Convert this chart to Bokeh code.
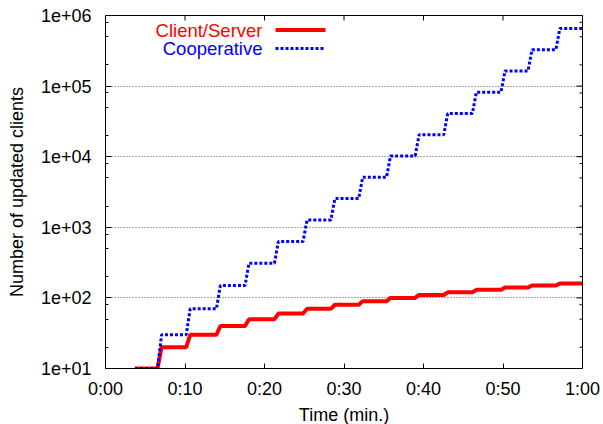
import math
from bokeh.plotting import figure
from bokeh.models import Range1d, FixedTicker, Label, Arrow
from bokeh.embed import file_html
from bokeh.resources import INLINE

# ---- data ----
start_time = 3.7          # minutes, first point of both series
end_time = 60.0
rise_times = [6.8, 10.4, 14.2, 17.8, 21.5, 25.1, 28.6, 32.1, 35.6, 39.2,
              42.8, 46.4, 50.0, 53.4, 56.9]
rise_width = 0.5
cs_levels = [10, 20, 30, 40, 50, 60, 70, 80, 90, 100, 110, 120, 130, 140, 150, 160]
coop_levels = [10, 30, 70, 150, 310, 630, 1270, 2550, 5110, 10230, 20470,
               40950, 81910, 163830, 327670, 655350]

x_ticks = [0, 10, 20, 30, 40, 50, 60]
x_tick_labels = ["0:00", "0:10", "0:20", "0:30", "0:40", "0:50", "1:00"]
y_ticks = [10, 100, 1000, 10000, 100000, 1000000]
y_tick_labels = ["1e+01", "1e+02", "1e+03", "1e+04", "1e+05", "1e+06"]
y_minor = [20, 50, 80, 200, 500, 800, 2000, 5000, 8000, 20000, 50000, 80000,
           200000, 500000, 800000]

series_names = ["Client/Server", "Cooperative"]


def step_xy(levels):
    xs = [start_time]
    ys = [levels[0]]
    for t, prev, nxt in zip(rise_times, levels[:-1], levels[1:]):
        xs += [t - rise_width / 2, t + rise_width / 2]
        ys += [prev, nxt]
    xs.append(end_time)
    ys.append(levels[-1])
    return xs, ys


FONT = "Liberation Sans"
FS = "18px"
X0, X1 = 0, 60
Y0, Y1 = 10, 1e6

p = figure(frame_width=477, frame_height=353,
           min_border_left=105, min_border_right=21, min_border_top=15, min_border_bottom=56,
           x_range=Range1d(X0, X1), y_range=Range1d(Y0, Y1), y_axis_type="log",
           output_backend="svg", toolbar_location=None,
           background_fill_color="white", border_fill_color="white")
p.outline_line_color = "black"
p.outline_line_width = 1

p.xgrid.visible = False
p.ygrid.ticker = FixedTicker(ticks=y_ticks)
p.ygrid.grid_line_color = "#555555"
p.ygrid.grid_line_dash = "1 2"
p.ygrid.grid_line_width = 1

# inward ticks on the top and right borders (markers clipped by the frame)
p.scatter([X1] * len(y_ticks), y_ticks, marker="dash", size=12, line_color="black", line_width=1)
p.scatter([X1] * len(y_minor), y_minor, marker="dash", size=6, line_color="black", line_width=1)
p.scatter(x_ticks, [Y1] * len(x_ticks), marker="dash", angle=math.pi / 2, size=10,
          line_color="black", line_width=1)

xs, ys = step_xy(cs_levels)
p.line(xs, ys, line_color="#ff0000", line_width=4)
xs, ys = step_xy(coop_levels)
p.line(xs, ys, line_color="#0000ff", line_width=3, line_dash="3 2")

# axes
xa = p.xaxis[0]
xa.ticker = FixedTicker(ticks=x_ticks)
xa.major_label_overrides = {t: l for t, l in zip(x_ticks, x_tick_labels)}
xa.axis_label = "Time (min.)"
ya = p.yaxis[0]
ya.ticker = FixedTicker(ticks=y_ticks, minor_ticks=y_minor)
ya.major_label_overrides = {t: l for t, l in zip(y_ticks, y_tick_labels)}
ya.axis_label = "Number of updated clients"

for ax in (xa, ya):
    ax.major_tick_in = 6
    ax.major_tick_out = 0
    ax.minor_tick_in = 3
    ax.minor_tick_out = 0
    ax.major_label_text_font = FONT
    ax.major_label_text_font_size = FS
    ax.major_label_text_color = "black"
    ax.axis_label_text_font = FONT
    ax.axis_label_text_font_size = FS
    ax.axis_label_text_font_style = "normal"
    ax.axis_label_text_color = "black"
    ax.axis_line_color = "black"
    ax.major_tick_line_color = "black"
    ax.minor_tick_line_color = "black"
xa.major_tick_in = 5
xa.major_label_standoff = 10
xa.axis_label_standoff = 3
ya.major_label_standoff = 14
ya.axis_label_standoff = 11

# legend (top-left, text right-aligned before the sample)
colors = ["#ff0000", "#0000ff"]
dashes = ["solid", "3 2"]
widths = [4, 3]
legend_y = [338.5, 320]
for name, c, d, w, ly in zip(series_names, colors, dashes, widths, legend_y):
    p.add_layout(Label(x=157, y=ly, x_units="screen", y_units="screen", text=name,
                       text_align="right", text_baseline="middle",
                       text_font=FONT, text_font_size="18.5px", text_color=c))
    p.add_layout(Arrow(x_start=170, y_start=ly, x_end=220, y_end=ly,
                       start_units="screen", end_units="screen", start=None, end=None,
                       line_color=c, line_width=w, line_dash=d))

open("out.html", "w").write(file_html(p, INLINE))
